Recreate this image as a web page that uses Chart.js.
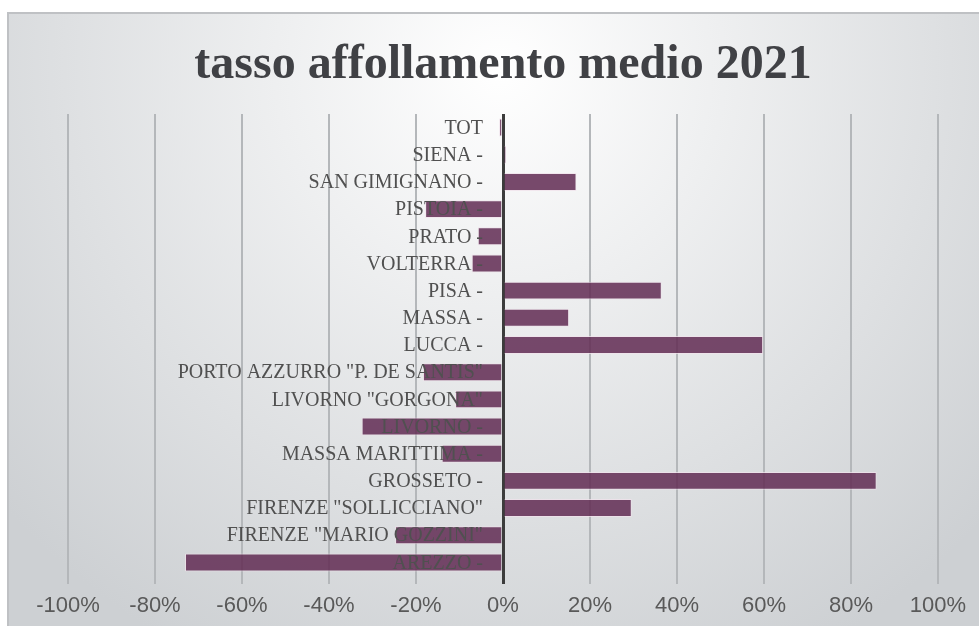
<!DOCTYPE html>
<html>
<head>
<meta charset="utf-8">
<script src="https://cdn.jsdelivr.net/npm/chart.js@4/dist/chart.umd.min.js"></script>
<style>
  html, body { margin: 0; padding: 0; background: #ffffff; }
  canvas { display: block; }
</style>
</head>
<body>
<canvas id="c" width="979" height="626"></canvas>
<script>
const categories = [
  'TOT', 'SIENA -', 'SAN GIMIGNANO -', 'PISTOIA -', 'PRATO -', 'VOLTERRA -',
  'PISA -', 'MASSA -', 'LUCCA -', 'PORTO AZZURRO "P. DE SANTIS"', 'LIVORNO "GORGONA"',
  'LIVORNO -', 'MASSA MARITTIMA -', 'GROSSETO -', 'FIRENZE "SOLLICCIANO"',
  'FIRENZE "MARIO GOZZINI"', 'AREZZO -'
];
const affollamento = [
  -0.009, 0.007, 0.169, -0.179, -0.058, -0.072,
  0.365, 0.152, 0.598, -0.184, -0.110,
  -0.325, -0.141, 0.859, 0.296,
  -0.248, -0.731
];
const tickLabels = ['-100%', '-80%', '-60%', '-40%', '-20%', '0%', '20%', '40%', '60%', '80%', '100%'];
const chartTitle = 'tasso affollamento medio 2021';

const bgPlugin = {
  id: 'bg',
  beforeDraw(chart) {
    const ctx = chart.ctx;
    const w = chart.width, h = chart.height;
    ctx.save();
    ctx.fillStyle = '#ffffff';
    ctx.fillRect(0, 0, w, h);
    const g = ctx.createRadialGradient(500, 70, 0, 500, 70, 660);
    g.addColorStop(0, '#ffffff');
    g.addColorStop(1, '#cdd0d3');
    ctx.fillStyle = g;
    ctx.fillRect(8, 13, w - 8, h - 13);
    ctx.strokeStyle = '#bfc1c4';
    ctx.lineWidth = 2;
    ctx.beginPath();
    ctx.moveTo(8, h);
    ctx.lineTo(8, 13);
    ctx.lineTo(w, 13);
    ctx.stroke();
    ctx.restore();
  }
};

const catLabelPlugin = {
  id: 'catLabels',
  afterDatasetsDraw(chart) {
    const ctx = chart.ctx;
    const xs = chart.scales.x, ys = chart.scales.y;
    const x0 = xs.getPixelForValue(0) - 20;
    ctx.save();
    ctx.font = '20px "Liberation Serif", "DejaVu Serif", serif';
    ctx.fillStyle = '#505050';
    ctx.textAlign = 'right';
    ctx.textBaseline = 'middle';
    categories.forEach((lab, i) => {
      ctx.fillText(lab, x0, ys.getPixelForValue(i) + 1);
    });
    ctx.restore();
  }
};

new Chart(document.getElementById('c'), {
  type: 'bar',
  data: {
    labels: categories,
    datasets: [{
      data: affollamento,
      backgroundColor: 'rgba(98, 44, 84, 0.86)',
      borderColor: 'rgba(240, 225, 235, 0.75)',
      borderWidth: 1,
      borderSkipped: 'start',
      categoryPercentage: 1,
      barPercentage: 0.66
    }]
  },
  options: {
    indexAxis: 'y',
    responsive: false,
    devicePixelRatio: 1,
    animation: false,
    layout: { padding: { left: 68, right: 41, top: 0, bottom: 0 } },
    plugins: {
      legend: { display: false },
      tooltip: { enabled: false },
      title: {
        display: true,
        text: chartTitle,
        color: '#404145',
        font: { family: '"Liberation Serif", "DejaVu Serif", serif', size: 48, weight: 'bold' },
        padding: { top: 37, bottom: 19.4 }
      }
    },
    scales: {
      x: {
        min: -1,
        max: 1,
        afterFit(scale) { scale.height = 50; },
        ticks: {
          stepSize: 0.2,
          color: '#595959',
          padding: 9,
          font: { family: '"Liberation Sans Narrow", "Liberation Sans", sans-serif', size: 22 },
          callback: (v, i) => tickLabels[i]
        },
        grid: {
          color: (c) => (c.tick && Math.abs(c.tick.value) < 1e-9) ? '#3c3c3c' : '#b4b7ba',
          lineWidth: (c) => (c.tick && Math.abs(c.tick.value) < 1e-9) ? 3 : 2,
          tickLength: 8,
          drawTicks: true
        },
        border: { display: false }
      },
      y: {
        ticks: { display: false },
        grid: { display: false, drawTicks: false },
        border: { display: false }
      }
    }
  },
  plugins: [bgPlugin, catLabelPlugin]
});
</script>
</body>
</html>
